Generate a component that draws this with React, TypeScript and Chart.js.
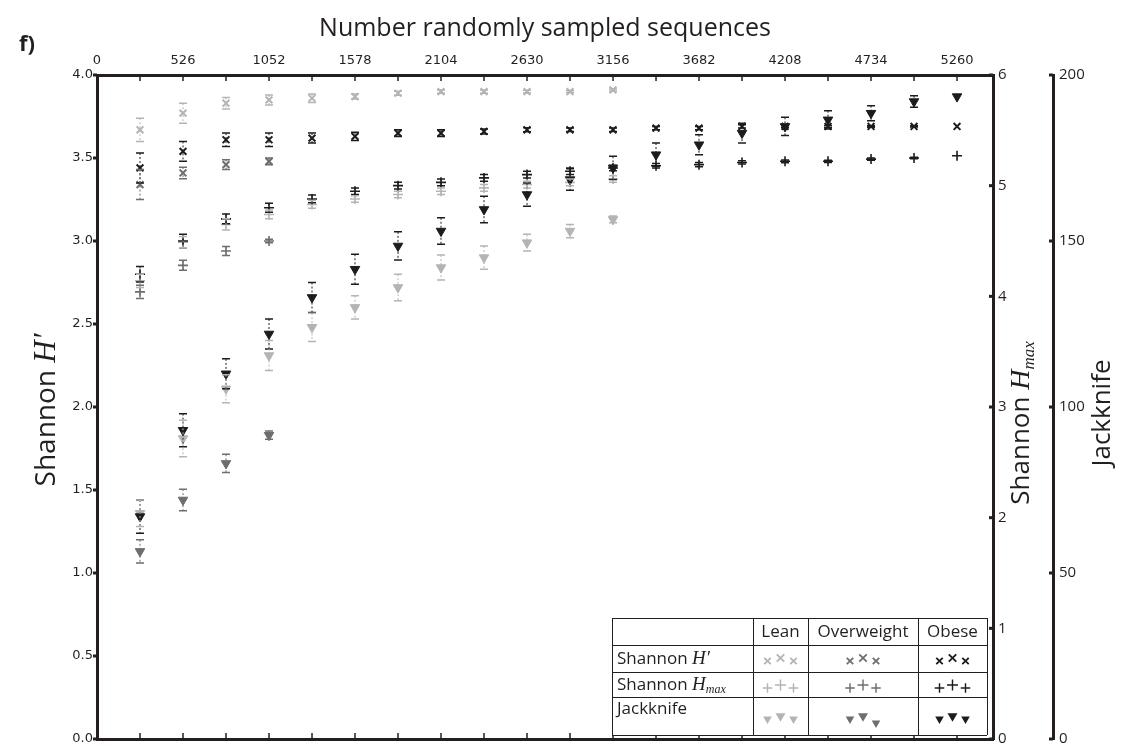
import React, { useEffect, useRef } from 'react';
import { Chart, registerables } from 'chart.js';

Chart.register(...registerables);

// ---------------- data ----------------
const sampledSequences = [263, 526, 789, 1052, 1315, 1578, 1841, 2104, 2367, 2630, 2893, 3156, 3419, 3682, 3945, 4208, 4471, 4734, 4997, 5260];
const xTickValues = [0, 263, 526, 789, 1052, 1315, 1578, 1841, 2104, 2367, 2630, 2893, 3156, 3419, 3682, 3945, 4208, 4471, 4734, 4997, 5260];
const xLabelValues = [0, 526, 1052, 1578, 2104, 2630, 3156, 3682, 4208, 4734, 5260];

// Shannon H' (left axis)
const leanShannon = [3.67, 3.77, 3.83, 3.85, 3.86, 3.87, 3.89, 3.90, 3.90, 3.90, 3.90, 3.91];
const leanShannonErr = [0.07, 0.06, 0.035, 0.03, 0.025, 0.015, 0.012, 0.01, 0.01, 0.008, 0.006, 0.006];
const overShannon = [3.34, 3.41, 3.46, 3.48];
const overShannonErr = [0.09, 0.035, 0.03, 0.02];
const obeseShannon = [3.44, 3.54, 3.61, 3.61, 3.62, 3.63, 3.65, 3.65, 3.66, 3.67, 3.67, 3.67, 3.68, 3.68, 3.69, 3.69, 3.69, 3.69, 3.69, 3.69];
const obeseShannonErr = [0.09, 0.06, 0.04, 0.04, 0.03, 0.025, 0.02, 0.02, 0.015, 0.012, 0.01, 0.01, 0.01, 0.01, 0.01, 0.008, 0.006, 0.005, 0.004, 0];

// Shannon Hmax (middle right axis)
const leanHmax = [4.14, 4.49, 4.65, 4.74, 4.83, 4.88, 4.92, 4.95, 4.98, 5.01, 5.03, 5.06];
const leanHmaxErr = [0.06, 0.05, 0.05, 0.04, 0.035, 0.03, 0.03, 0.03, 0.03, 0.03, 0.03, 0.03];
const overHmax = [4.04, 4.28, 4.41, 4.50];
const overHmaxErr = [0.06, 0.045, 0.04, 0.015];
const obeseHmax = [4.20, 4.50, 4.70, 4.80, 4.88, 4.95, 5.00, 5.03, 5.07, 5.10, 5.13, 5.16, 5.18, 5.19, 5.21, 5.22, 5.22, 5.24, 5.25, 5.27];
const obeseHmaxErr = [0.07, 0.06, 0.045, 0.04, 0.035, 0.03, 0.03, 0.03, 0.03, 0.03, 0.03, 0.025, 0.02, 0.02, 0.015, 0.012, 0.01, 0.01, 0.006, 0];

// Jackknife (outer right axis)
const leanJack = [68, 90.5, 105.5, 115.5, 124, 130, 136, 142, 145, 149.5, 153, 156.5];
const leanJackErr = [4, 5.5, 4.25, 4.5, 4.25, 3.5, 4, 3.75, 3.5, 2.5, 2, 1];
const overJack = [56.5, 72, 83, 91.5];
const overJackErr = [3.5, 3.25, 2.75, 1.25];
const obeseJack = [67, 93, 110, 122, 133, 141.5, 148.5, 153, 159.5, 164, 168.5, 172, 176, 179, 182.5, 184.5, 186.5, 188.5, 192, 193.5];
const obeseJackErr = [5, 5, 4.5, 4.5, 4.5, 4.5, 4.25, 4, 4, 3.5, 3.25, 3.5, 3.5, 3, 3, 2.75, 2.75, 2.25, 1.75, 0];

const groups = ['Lean', 'Overweight', 'Obese'];
const metrics = ['Shannon H′', 'Shannon Hmax', 'Jackknife'];

// ---------------- styles ----------------
const INK = '#231f20';
const groupColors: Record<string, string> = { Lean: '#b4b4b4', Overweight: '#6e6e6e', Obese: '#1c1c1c' };

const metricStyle: Record<string, any> = {
  'Shannon H′': { axis: 'y', pointStyle: 'crossRot', radius: 4.8, rotation: 0, borderWidth: 2 },
  'Shannon Hmax': { axis: 'y2', pointStyle: 'cross', radius: 5, rotation: 0, borderWidth: 1.6 },
  'Jackknife': { axis: 'y3', pointStyle: 'triangle', radius: 5.5, rotation: 180, borderWidth: 1 },
};

const seriesTable: [string, string, number[], number[]][] = [
  ['Obese', 'Jackknife', obeseJack, obeseJackErr],
  ['Obese', 'Shannon H′', obeseShannon, obeseShannonErr],
  ['Obese', 'Shannon Hmax', obeseHmax, obeseHmaxErr],
  ['Overweight', 'Jackknife', overJack, overJackErr],
  ['Overweight', 'Shannon H′', overShannon, overShannonErr],
  ['Overweight', 'Shannon Hmax', overHmax, overHmaxErr],
  ['Lean', 'Jackknife', leanJack, leanJackErr],
  ['Lean', 'Shannon H′', leanShannon, leanShannonErr],
  ['Lean', 'Shannon Hmax', leanHmax, leanHmaxErr],
];

// ---------------- helpers ----------------
type Seg = { t: string; font: string; dy?: number };
function richWidth(ctx: CanvasRenderingContext2D, segs: Seg[]) {
  let w = 0;
  for (const s of segs) { ctx.font = s.font; w += ctx.measureText(s.t).width; }
  return w;
}
function drawRich(ctx: CanvasRenderingContext2D, segs: Seg[], x: number, y: number, align: 'left' | 'center') {
  const w = richWidth(ctx, segs);
  let cx = align === 'center' ? x - w / 2 : x;
  ctx.textAlign = 'left';
  ctx.textBaseline = 'middle';
  for (const s of segs) {
    ctx.font = s.font;
    ctx.fillText(s.t, cx, y + (s.dy || 0));
    cx += ctx.measureText(s.t).width;
  }
}
function drawMarker(ctx: CanvasRenderingContext2D, style: string, x: number, y: number, r: number, color: string, bw: number) {
  ctx.save();
  ctx.strokeStyle = color;
  ctx.fillStyle = color;
  ctx.lineWidth = bw;
  ctx.beginPath();
  if (style === 'cross') {
    ctx.moveTo(x - r, y); ctx.lineTo(x + r, y);
    ctx.moveTo(x, y - r); ctx.lineTo(x, y + r);
    ctx.stroke();
  } else if (style === 'crossRot') {
    const o = r * Math.SQRT1_2;
    ctx.moveTo(x - o, y - o); ctx.lineTo(x + o, y + o);
    ctx.moveTo(x + o, y - o); ctx.lineTo(x - o, y + o);
    ctx.stroke();
  } else {
    const h = r * Math.sqrt(3) / 2;
    ctx.moveTo(x - h, y - r / 2); ctx.lineTo(x + h, y - r / 2); ctx.lineTo(x, y + r);
    ctx.closePath();
    ctx.fill();
  }
  ctx.restore();
}
const noPad = (s: any) => { s.paddingTop = 0; s.paddingBottom = 0; s.paddingLeft = 0; s.paddingRight = 0; };

// ---------------- plugins ----------------
const errorBarPlugin = {
  id: 'errorBars',
  afterDatasetsDraw(chart: any) {
    const ctx = chart.ctx as CanvasRenderingContext2D;
    chart.data.datasets.forEach((ds: any, i: number) => {
      const meta = chart.getDatasetMeta(i);
      const ys = chart.scales[ds.yAxisID];
      meta.data.forEach((pt: any, j: number) => {
        const e = ds.errs[j];
        if (!e) return;
        const v = ds.data[j].y;
        const top = ys.getPixelForValue(v + e);
        const bot = ys.getPixelForValue(v - e);
        const x = pt.x;
        ctx.save();
        ctx.strokeStyle = ds.errColor;
        ctx.lineWidth = 1;
        ctx.setLineDash([2, 2]);
        ctx.beginPath();
        ctx.moveTo(x, top); ctx.lineTo(x, bot);
        ctx.stroke();
        ctx.setLineDash([]);
        ctx.lineWidth = 1.5;
        ctx.beginPath();
        ctx.moveTo(x - 4, top); ctx.lineTo(x + 4, top);
        ctx.moveTo(x - 4, bot); ctx.lineTo(x + 4, bot);
        ctx.stroke();
        ctx.restore();
      });
    });
  },
};

const framePlugin = {
  id: 'frameAndText',
  afterDraw(chart: any) {
    const ctx = chart.ctx as CanvasRenderingContext2D;
    const { x, xb, y, y2, y3 } = chart.scales;
    const area = chart.chartArea;
    ctx.save();
    ctx.fillStyle = INK;
    ctx.strokeStyle = INK;
    // inward ticks on top and bottom axes
    ctx.lineWidth = 1.5;
    ctx.beginPath();
    x.ticks.forEach((t: any) => {
      const px = x.getPixelForValue(t.value);
      ctx.moveTo(px, area.top); ctx.lineTo(px, area.top + 6);
    });
    xb.ticks.forEach((t: any) => {
      const px = xb.getPixelForValue(t.value);
      ctx.moveTo(px, area.bottom); ctx.lineTo(px, area.bottom - 6);
    });
    ctx.stroke();
    // small square ticks on vertical axes
    [y, y2, y3].forEach((s: any) => {
      const ax = s === y ? s.right : s.left;
      s.ticks.forEach((t: any) => {
        const py = s.getPixelForValue(t.value);
        ctx.fillRect(ax - 4, py - 1.5, 4, 3);
      });
    });

    // axis titles
    ctx.fillStyle = INK;
    ctx.save();
    ctx.translate(47, 410);
    ctx.rotate(-Math.PI / 2);
    drawRich(ctx, [
      { t: 'Shannon ', font: '28px "Open Sans"' },
      { t: 'H′', font: 'italic 31px "Liberation Serif"' },
    ], 0, 0, 'center');
    ctx.restore();

    ctx.save();
    ctx.translate(1022, 423);
    ctx.rotate(-Math.PI / 2);
    drawRich(ctx, [
      { t: 'Shannon ', font: '26px "Open Sans"' },
      { t: 'H', font: 'italic 28px "Liberation Serif"' },
      { t: 'max', font: 'italic 17px "Liberation Serif"', dy: 8 },
    ], 0, 0, 'center');
    ctx.restore();

    ctx.save();
    ctx.translate(1103, 413);
    ctx.rotate(-Math.PI / 2);
    drawRich(ctx, [{ t: 'Jackknife', font: '26px "Open Sans"' }], 0, 0, 'center');
    ctx.restore();

    // panel label
    drawRich(ctx, [{ t: 'f)', font: 'bold 22px "Open Sans"' }], 19, 45, 'left');

    // legend table
    const L = 612, R = 987;
    const cols = [L, 753, 808, 918, R];
    const rows = [618, 645, 672, 697, 735];
    ctx.fillStyle = '#ffffff';
    ctx.fillRect(L, rows[0], R - L, rows[4] - rows[0]);
    ctx.strokeStyle = INK;
    ctx.lineWidth = 1;
    ctx.beginPath();
    rows.forEach((ry) => { ctx.moveTo(L, ry + 0.5); ctx.lineTo(R, ry + 0.5); });
    cols.forEach((cx) => { ctx.moveTo(cx + 0.5, rows[0]); ctx.lineTo(cx + 0.5, rows[4]); });
    ctx.stroke();

    ctx.fillStyle = INK;
    const f = '17px "Open Sans"';
    groups.forEach((g, gi) => {
      drawRich(ctx, [{ t: g, font: f }], (cols[gi + 1] + cols[gi + 2]) / 2, 632, 'center');
    });
    const rowLabelY = [659, 685, 709];
    drawRich(ctx, [{ t: 'Shannon ', font: f }, { t: 'H′', font: 'italic 19px "Liberation Serif"' }], 617, rowLabelY[0], 'left');
    drawRich(ctx, [
      { t: 'Shannon ', font: f },
      { t: 'H', font: 'italic 19px "Liberation Serif"' },
      { t: 'max', font: 'italic 12px "Liberation Serif"', dy: 5 },
    ], 617, rowLabelY[1], 'left');
    drawRich(ctx, [{ t: 'Jackknife', font: f }], 617, rowLabelY[2], 'left');

    const markerY = [661, 688, 719];
    const offsets = [[-13, 0, 0.95], [0, -3, 1.1], [13, 0, 0.95]];
    chart.data.datasets.forEach((ds: any) => {
      const gi = groups.indexOf(ds.group);
      const mi = metrics.indexOf(ds.metric);
      const cx = (cols[gi + 1] + cols[gi + 2]) / 2;
      const st = metricStyle[ds.metric];
      offsets.forEach(([dx, dy, sc], k) => {
        let extra = 0;
        if (ds.group === 'Overweight' && ds.metric === 'Jackknife' && k === 2) extra = 4;
        drawMarker(ctx, st.pointStyle, cx + dx, markerY[mi] + dy + extra, st.radius * sc * (st.pointStyle === 'triangle' ? 0.95 : 1), ds.borderColor, st.borderWidth * 0.9);
      });
    });
    ctx.restore();
  },
};

// ---------------- component ----------------
export default function App() {
  const canvasRef = useRef<HTMLCanvasElement | null>(null);

  useEffect(() => {
    if (!canvasRef.current) return;
    const datasets = seriesTable.map(([group, metric, values, errs]) => {
      const st = metricStyle[metric];
      const color = groupColors[group];
      return {
        label: `${group} ${metric}`,
        group,
        metric,
        errs,
        errColor: color,
        data: values.map((v, i) => ({ x: sampledSequences[i], y: v })),
        yAxisID: st.axis,
        xAxisID: 'x',
        pointStyle: st.pointStyle,
        pointRadius: st.radius,
        pointRotation: st.rotation,
        borderColor: color,
        backgroundColor: color,
        pointBorderWidth: st.borderWidth,
        showLine: false,
      };
    });

    const edge = { drawOnChartArea: false, drawTicks: false, color: INK };
    const border = { display: true, color: INK, width: 3 };

    const chart = new Chart(canvasRef.current, {
      type: 'scatter',
      data: { datasets } as any,
      options: {
        animation: false,
        responsive: false,
        devicePixelRatio: 1,
        layout: { padding: 0 },
        plugins: { legend: { display: false }, tooltip: { enabled: false } },
        scales: {
          x: {
            type: 'linear',
            position: 'top',
            min: 0,
            max: 5480,
            afterBuildTicks: (s: any) => { s.ticks = xTickValues.map((v) => ({ value: v })); },
            afterFit: (s: any) => { s.height = 75; noPad(s); },
            ticks: {
              autoSkip: false,
              maxRotation: 0,
              padding: 7,
              color: INK,
              font: { family: 'DejaVu Sans', size: 13 },
              callback: (v: any) => (xLabelValues.includes(Number(v)) ? String(v) : ''),
            },
            grid: edge,
            border,
            title: {
              display: true,
              text: 'Number randomly sampled sequences',
              color: INK,
              font: { family: 'Open Sans', size: 25 },
              padding: { top: 14, bottom: 2 },
            },
          },
          xb: {
            type: 'linear',
            position: 'bottom',
            min: 0,
            max: 5480,
            afterBuildTicks: (s: any) => { s.ticks = xTickValues.map((v) => ({ value: v })); },
            afterFit: (s: any) => { s.height = 10; noPad(s); },
            ticks: { display: false },
            grid: edge,
            border,
          },
          y: {
            type: 'linear',
            position: 'left',
            min: 0,
            max: 4,
            afterFit: (s: any) => { s.width = 97; noPad(s); },
            ticks: {
              stepSize: 0.5,
              padding: 4,
              color: INK,
              font: { family: 'DejaVu Sans', size: 13 },
              callback: (v: any) => Number(v).toFixed(1),
            },
            grid: edge,
            border,
          },
          y2: {
            type: 'linear',
            position: 'right',
            weight: 0,
            min: 0,
            max: 6,
            afterFit: (s: any) => { s.width = 60; noPad(s); },
            ticks: { stepSize: 1, padding: 5, color: INK, font: { family: 'Open Sans', size: 15 } },
            grid: edge,
            border,
          },
          y3: {
            type: 'linear',
            position: 'right',
            weight: 1,
            min: 0,
            max: 200,
            afterFit: (s: any) => { s.width = 75; noPad(s); },
            ticks: { stepSize: 50, padding: 6, color: INK, font: { family: 'Open Sans', size: 15 } },
            grid: edge,
            border,
          },
        },
      } as any,
      plugins: [errorBarPlugin, framePlugin],
    });
    return () => chart.destroy();
  }, []);

  return (
    <div style={{ position: 'absolute', left: 0, top: 0, width: 1128, height: 749, background: '#fff' }}>
      <canvas ref={canvasRef} width={1128} height={749} style={{ display: 'block' }} />
    </div>
  );
}
